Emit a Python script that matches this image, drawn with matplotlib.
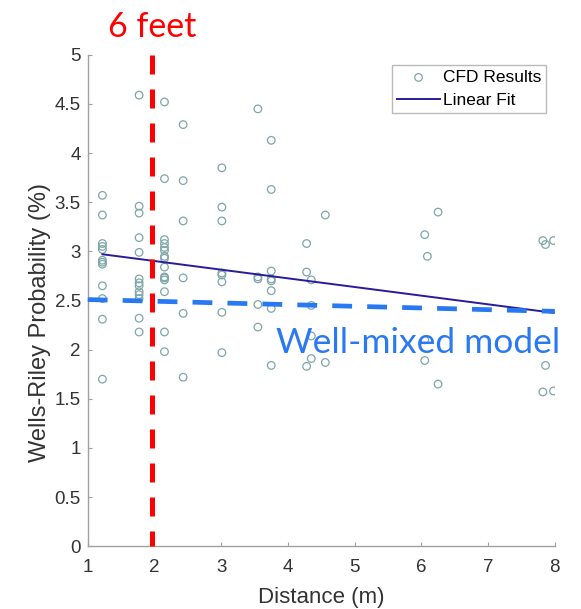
import numpy as np
import matplotlib
matplotlib.use("Agg")
import matplotlib.pyplot as plt

# CFD results: distance (m) and Wells-Riley probability (%)
dist_1 = [1.22] * 12
prob_1 = [3.57, 3.37, 3.08, 3.05, 3.02, 2.91, 2.89, 2.87, 2.65, 2.52, 2.31, 1.70]
dist_2 = [1.77] * 13
prob_2 = [4.59, 3.46, 3.39, 3.14, 2.99, 2.72, 2.68, 2.65, 2.59, 2.56, 2.52, 2.32, 2.18]
dist_3 = [2.15] * 15
prob_3 = [4.52, 3.74, 3.12, 3.08, 3.04, 3.01, 2.95, 2.93, 2.84, 2.74, 2.73, 2.71, 2.59, 2.18, 1.98]
dist_4 = [2.43] * 6
prob_4 = [4.29, 3.72, 3.31, 2.73, 2.37, 1.72]
dist_5 = [3.01] * 8
prob_5 = [3.85, 3.45, 3.31, 2.78, 2.76, 2.69, 2.38, 1.97]
dist_6 = [3.55] * 5
prob_6 = [4.45, 2.74, 2.72, 2.46, 2.23]
dist_7 = [3.75] * 8
prob_7 = [4.13, 3.63, 2.80, 2.72, 2.70, 2.60, 2.42, 1.84]
dist_8 = [4.28, 4.28, 4.28, 4.35, 4.35, 4.35, 4.35, 4.56, 4.56]
prob_8 = [3.08, 2.79, 1.83, 2.71, 2.45, 2.14, 1.91, 3.37, 1.87]
dist_9 = [6.05, 6.05, 6.05, 6.09, 6.25, 6.25]
prob_9 = [3.17, 2.10, 1.89, 2.95, 3.40, 1.65]
dist_10 = [7.82, 7.82, 7.86, 7.86, 7.98, 7.98]
prob_10 = [3.11, 1.57, 3.07, 1.84, 3.11, 1.58]

distance = np.array(dist_1 + dist_2 + dist_3 + dist_4 + dist_5 + dist_6 + dist_7 + dist_8 + dist_9 + dist_10)
probability = np.array(prob_1 + prob_2 + prob_3 + prob_4 + prob_5 + prob_6 + prob_7 + prob_8 + prob_9 + prob_10)

# hand drawn annotations
six_feet_x = 1.96
well_mixed_x = [1.0, 8.0]
well_mixed_y = [2.51, 2.39]

plt.rcParams['font.family'] = ['Liberation Sans', 'DejaVu Sans']

fig = plt.figure(figsize=(5.81, 6.09), dpi=100)
ax = fig.add_axes([0.151, 0.103, 0.804, 0.807])

ax.scatter(distance, probability, s=30, facecolors='none', edgecolors='#7fa6a8',
           linewidths=0.9, label='CFD Results', zorder=3)

# linear fit through the CFD data
coef = np.polyfit(distance, probability, 1)
fit_x = np.array([distance.min(), distance.max()])
ax.plot(fit_x, np.polyval(coef, fit_x), color='#2a1a9c', lw=1.4, label='Linear Fit', zorder=4)

ax.plot(well_mixed_x, well_mixed_y, color='#2878f2', lw=3.4, dashes=(4.2, 3.2), zorder=5,
        solid_capstyle='butt', clip_on=False)
ax.plot([six_feet_x, six_feet_x], [5, 0], color='#ff0000', lw=3.6, dashes=(3.8, 3.0), zorder=6,
        clip_on=False)

ax.text(six_feet_x, 5.18, '6 feet', color='#ff0000', fontsize=24.5, family=['Lato', 'DejaVu Sans'],
        ha='center', va='baseline')
ax.text(3.82, 1.97, 'Well-mixed model', color='#2a78f2', fontsize=25.5,
        family=['Lato', 'DejaVu Sans'], ha='left', va='baseline', zorder=7)

ax.set_xlim(1, 8)
ax.set_ylim(0, 5)
ax.set_xticks(range(1, 9))
ax.set_yticks(np.arange(0, 5.01, 0.5))
ax.set_yticklabels(['0', '0.5', '1', '1.5', '2', '2.5', '3', '3.5', '4', '4.5', '5'])
ax.set_xlabel('Distance (m)', fontsize=16, color='#333333', labelpad=8)
ax.set_ylabel('Wells-Riley Probability (%)', fontsize=17, color='#333333')
ax.yaxis.set_label_coords(-0.078, 0.456)

for side in ['top', 'right']:
    ax.spines[side].set_visible(False)
for side in ['left', 'bottom']:
    ax.spines[side].set_color('#a0a0a0')
    ax.spines[side].set_linewidth(1.0)
ax.tick_params(direction='in', length=3, color='#a0a0a0', labelsize=13.5, labelcolor='#333333')
ax.tick_params(axis='x', pad=9)
ax.tick_params(axis='y', pad=5)

leg = ax.legend(loc='upper right', bbox_to_anchor=(0.982, 0.98), fontsize=12.5, frameon=True,
                fancybox=False, edgecolor='#a8a8a8', handlelength=2.5, handletextpad=0.15,
                borderpad=0.3, labelspacing=0.45, borderaxespad=0)
leg.get_frame().set_linewidth(1.0)

fig.savefig('out.png', dpi=100)
